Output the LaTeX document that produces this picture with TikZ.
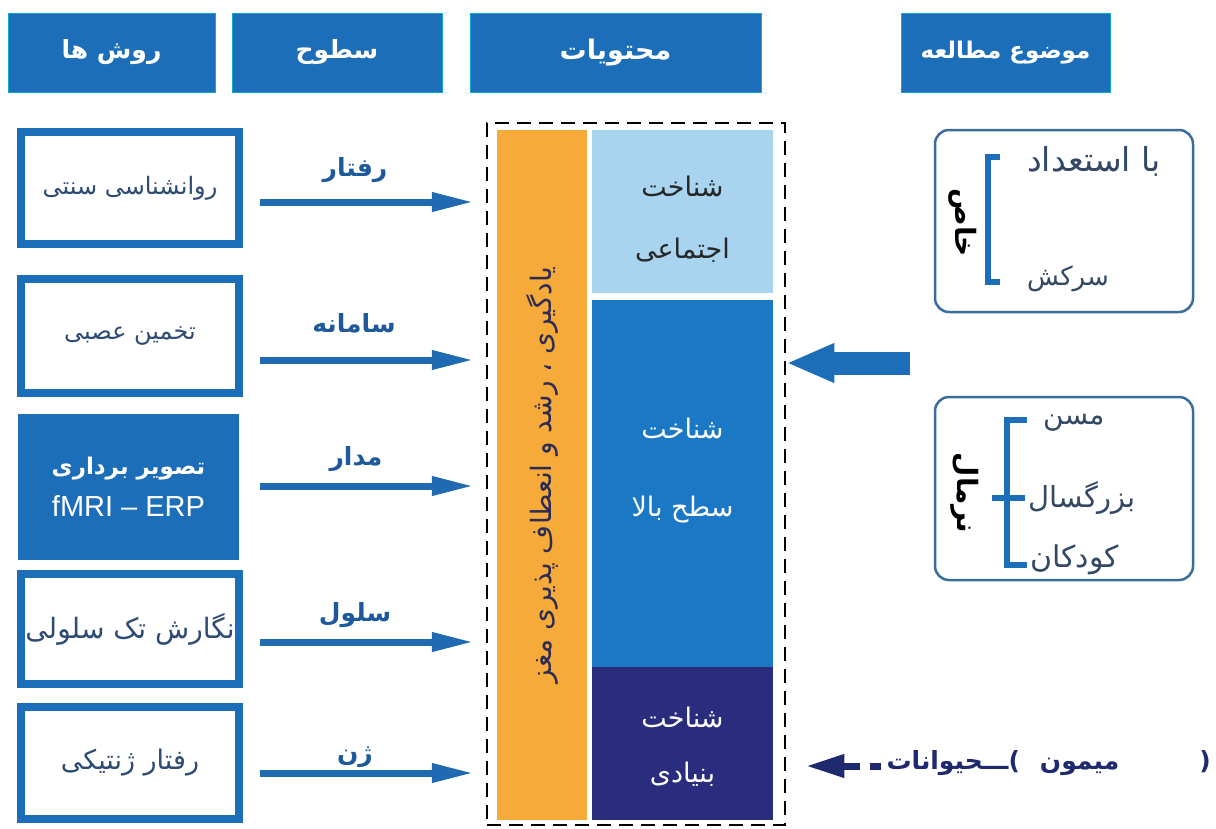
\documentclass[tikz,border=0pt]{standalone}
\usepackage{fontspec}
\setmainfont{DejaVu Sans}
\newfontfamily\fa[Script=Arabic]{DejaVu Sans}
\newfontfamily\lat{Liberation Sans}
\TeXXeTstate=1
\usetikzlibrary{arrows.meta}
\definecolor{hdr}{RGB}{27,110,183}
\definecolor{arrblue}{RGB}{31,106,176}
\definecolor{lbltxt}{RGB}{30,90,155}
\definecolor{boxtxt}{RGB}{45,75,115}
\definecolor{lightcell}{RGB}{168,212,240}
\definecolor{midcell}{RGB}{27,120,196}
\definecolor{navycell}{RGB}{42,44,126}
\definecolor{orangebar}{RGB}{245,170,58}
\definecolor{orangetxt}{RGB}{43,43,85}
\definecolor{rborder}{RGB}{58,108,156}
\definecolor{rtxt}{RGB}{50,72,100}
\definecolor{navytxt}{RGB}{31,42,110}
\newcommand{\fs}[1]{\fontsize{#1}{#1}\selectfont}
\tikzset{
  hdrbox/.style={fill=hdr, draw=hdr!60!cyan, line width=1pt, text=white, inner sep=0pt, minimum height=79pt},
  methodbox/.style={draw=hdr, line width=8pt, fill=white, text=boxtxt, inner sep=0pt, minimum width=218pt},
  levelarrow/.style={draw=arrblue, line width=7pt, -{Triangle[length=42pt,width=18pt]}},
  levellabel/.style={text=lbltxt, font=\fa\bfseries\fs{25}, inner sep=0pt},
  cell/.style={inner sep=0pt, minimum width=181pt},
  celltxt/.style={inner sep=0pt, align=center, font=\fa\fs{27}},
  sidebox/.style={draw=rborder, line width=2.5pt, rounded corners=14pt, minimum width=258pt, inner sep=0pt},
  sidetxt/.style={text=rtxt, inner sep=0pt, anchor=west},
  sidelabel/.style={text=black, font=\fa\bfseries\fs{28}, inner sep=0pt, rotate=-90},
  bracket/.style={draw=hdr, line width=5.5pt},
}
\begin{document}
\begin{tikzpicture}[x=1pt,y=-1pt]
\useasboundingbox[fill=white] (0,0) rectangle (1216,828);

% headers
\node[hdrbox, minimum width=207pt, font=\fa\bfseries\fs{25}] (h1) at (111.5,52.5) {\beginR روش ها\endR};
\node[hdrbox, minimum width=210pt, font=\fa\bfseries\fs{25}] (h2) at (337,52.5) {\beginR سطوح\endR};
\node[hdrbox, minimum width=291pt, font=\fa\bfseries\fs{27}] (h3) at (615.5,52.5) {\beginR محتویات\endR};
\node[hdrbox, minimum width=209pt, font=\fa\bfseries\fs{23}] (h4) at (1005.5,52.5) {\beginR موضوع مطالعه\endR};

% method boxes
\node[methodbox, minimum height=112pt, font=\fa\fs{24}] (m1) at (130,188) {\beginR روانشناسی سنتی\endR};
\node[methodbox, minimum height=114pt, font=\fa\fs{24}] (m2) at (130,336) {\beginR تخمین عصبی\endR};
\node[fill=hdr, minimum width=221pt, minimum height=146pt, inner sep=0pt, align=center, text=white] (m3) at (128.5,487)
  {{\fa\bfseries\fs{23}\beginR تصویر برداری\endR}\\[14pt]{\lat\fs{29}fMRI – ERP}};
\node[methodbox, minimum height=110pt, font=\fa\fs{28}] (m4) at (130,629) {\beginR نگارش تک سلولی\endR};
\node[methodbox, minimum height=112pt, font=\fa\fs{27}] (m5) at (130,763) {\beginR رفتار ژنتیکی\endR};

% contents
\node[draw=black, line width=2.5pt, dash pattern=on 14pt off 8pt, minimum width=298pt, minimum height=702pt, inner sep=0pt] (dbox) at (636,474) {};
\node[fill=orangebar, rotate=90, minimum width=690pt, minimum height=90pt, inner sep=0pt, text=orangetxt, font=\fa\fs{28}] (learn) at (542,475)
  {\beginR یادگیری ، رشد و انعطاف پذیری مغز\endR};
\node[cell, fill=lightcell, minimum height=163pt] (social) at (682.5,211.5) {};
\node[cell, fill=midcell, minimum height=367pt] (high) at (682.5,483.5) {};
\node[cell, fill=navycell, minimum height=153pt] (basic) at (682.5,743.5) {};
\node[celltxt, text=black!85] (socialtxt) at (682.5,219)
  {\beginR شناخت\endR\\[35pt]\beginR اجتماعی\endR};
\node[celltxt, text=white] (hightxt) at (682.5,471)
  {\beginR شناخت\endR\\[51pt]\beginR سطح بالا\endR};
\node[celltxt, text=white] (basictxt) at (682.5,747)
  {\beginR شناخت\endR\\[28pt]\beginR بنیادی\endR};

% level arrows and labels
\coordinate (a1) at (260,202);
\coordinate (a2) at (260,360);
\coordinate (a3) at (260,486);
\coordinate (a4) at (260,642);
\coordinate (a5) at (260,773);
\foreach \i in {1,...,5}{
  \draw[levelarrow, shorten >=12pt] (a\i) -- (a\i -| dbox.west);
}
\node[levellabel] (l1) at (355,170) {\beginR رفتار\endR};
\node[levellabel] (l2) at (354,323) {\beginR سامانه\endR};
\node[levellabel] (l3) at (356,459) {\beginR مدار\endR};
\node[levellabel] (l4) at (355,615) {\beginR سلول\endR};
\node[levellabel] (l5) at (355,757) {\beginR ژن\endR};

% subject boxes
\node[sidebox, minimum height=182pt] (s1) at (1064,221) {};
\node[sidebox, minimum height=183pt] (s2) at (1064,488.5) {};
\draw[bracket] (1000,157) -- (988,157) -- (988,282) -- (1000,282);
\draw[bracket] (1027,420) -- (1007,420) -- (1007,565) -- (1027,565);
\draw[bracket] (992,498) -- (1025,498);
\node[sidetxt, font=\fa\fs{33}] (t1) at (1027,161) {\beginR با استعداد\endR};
\node[sidetxt, font=\fa\fs{26}] (t2) at (1027,279) {\beginR سرکش\endR};
\node[sidetxt, font=\fa\fs{28}] (t3) at (1043,423) {\beginR مسن\endR};
\node[sidetxt, font=\fa\fs{29}] (t4) at (1028,498) {\beginR بزرگسال\endR};
\node[sidetxt, font=\fa\fs{30}] (t5) at (1030,560) {\beginR کودکان\endR};
\node[sidelabel] (k1) at (963,223) {\beginR خاص\endR};
\node[sidelabel] (k2) at (965,493) {\beginR نرمال\endR};

% big arrow from subjects
\coordinate (bigstart) at (910,363);
\draw[draw=hdr, line width=23pt, -{Triangle[length=48pt,width=36pt]}] (bigstart) -- (bigstart -| dbox.east);

% animals
\node[text=navytxt, font=\fa\bfseries\fs{25}, inner sep=0pt, anchor=east] (anim) at (1211,763)
  {\beginR(\hspace{80pt}میمون\hspace{20pt})\kern0ptـــحیوانات\endR};
\coordinate (animbar) at ([xshift=-5pt]anim.west |- 0,766);
\coordinate (animarr) at (860,766);
\draw[draw=navytxt, line width=7pt] (animbar) -- ++(-11,0);
\draw[draw=navytxt, line width=7pt, -{Triangle[length=38pt,width=22pt]}, shorten >=20pt] (animarr) -- (animarr -| dbox.east);
\end{tikzpicture}
\end{document}
